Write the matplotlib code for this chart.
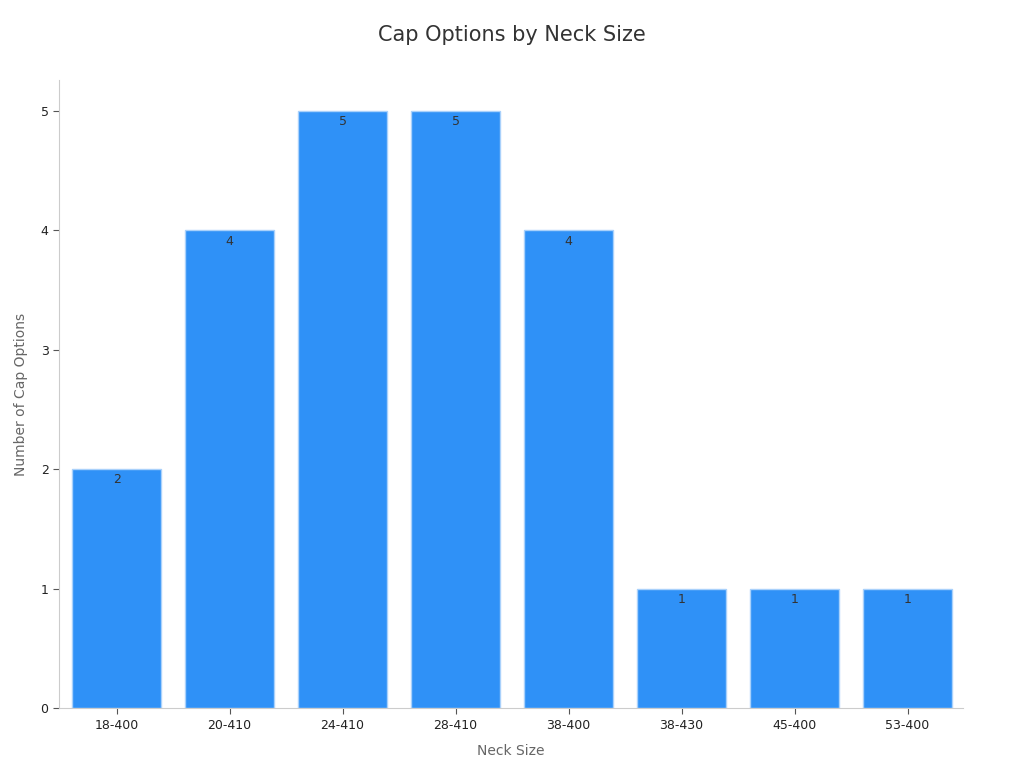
import matplotlib
matplotlib.use("Agg")
import matplotlib.pyplot as plt

# data
neck_sizes = ["18-400", "20-410", "24-410", "28-410", "38-400", "38-430", "45-400", "53-400"]
cap_options = [2, 4, 5, 5, 4, 1, 1, 1]

fig = plt.figure(figsize=(10.24, 7.68), dpi=100)
ax = fig.add_axes([0.0576, 0.078, 0.8828, 0.818])

bars = ax.bar(range(len(neck_sizes)), cap_options, width=0.79,
              color="#2f91f7", edgecolor="#a9d1fb", linewidth=1)

for b, v in zip(bars, cap_options):
    ax.text(b.get_x() + b.get_width() / 2, v - 0.035, str(v),
            ha="center", va="top", fontsize=9, color="#333333")

ax.set_xlim(-0.51, 7.49)
ax.set_ylim(0, 5.26)
ax.set_xticks(range(len(neck_sizes)))
ax.set_xticklabels(neck_sizes)
ax.set_yticks([0, 1, 2, 3, 4, 5])

for side in ["top", "right"]:
    ax.spines[side].set_visible(False)
for side in ["left", "bottom"]:
    ax.spines[side].set_color("#cccccc")

ax.tick_params(axis="both", colors="#555555", labelcolor="#222222", labelsize=9, length=4)

ax.set_xlabel("Neck Size", fontsize=10, color="#666666", labelpad=9)
ax.set_ylabel("Number of Cap Options", fontsize=10, color="#666666", labelpad=9)
fig.suptitle("Cap Options by Neck Size", fontsize=15, color="#333333", y=0.968)

fig.savefig("out.png", dpi=100)
